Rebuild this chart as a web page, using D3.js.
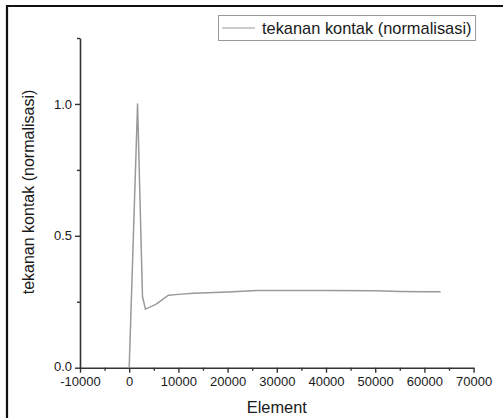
<!DOCTYPE html>
<html>
<head>
<meta charset="utf-8">
<script src="https://cdn.jsdelivr.net/npm/d3@7"></script>
<style>
  html, body { margin: 0; padding: 0; background: #fff; }
  svg { display: block; }
  text { font-family: "Liberation Sans", Arial, sans-serif; fill: #1a1a1a; }
</style>
</head>
<body>
<svg id="chart" width="504" height="418"></svg>
<script>
// Normalised contact pressure along the element index
const elements = [0, 1700, 2700, 3300, 5400, 8000, 10000, 13000, 20000, 26000, 30000, 40000, 50000, 55000, 60000, 63300];
const pressure = [0, 1.0, 0.27, 0.222, 0.24, 0.275, 0.278, 0.282, 0.287, 0.293, 0.293, 0.293, 0.292, 0.289, 0.288, 0.288];

const xMajorTicks = [-10000, 0, 10000, 20000, 30000, 40000, 50000, 60000, 70000];
const xMinorTicks = [-5000, 5000, 15000, 25000, 35000, 45000, 55000, 65000];
const yMajorTicks = [0.0, 0.5, 1.0];
const yMinorTicks = [0.25, 0.75, 1.25];

const seriesName = "tekanan kontak (normalisasi)";
const xTitle = "Element";
const yTitle = "tekanan kontak (normalisasi)";

const svg = d3.select("#chart");

// outer frame (top and left edges visible)
svg.append("path")
  .attr("d", "M7,430 L7,6 L503,6")
  .attr("fill", "none")
  .attr("stroke", "#111")
  .attr("stroke-width", 2.2);

const x = d3.scaleLinear().domain([-10000, 70000]).range([80, 473.6]);
const y = d3.scaleLinear().domain([0, 1.25]).range([367.7, 38]);

const axisColor = "#333";

// plain hyphen for negative tick labels
const xFmt = d => String(d);

// x axis
const xAxisG = svg.append("g").attr("transform", `translate(0,${y(0)})`);
xAxisG.call(d3.axisBottom(x).tickValues(xMajorTicks).tickSize(5).tickSizeOuter(0).tickFormat(xFmt));
xAxisG.append("g").call(d3.axisBottom(x).tickValues(xMinorTicks).tickSize(3).tickSizeOuter(0).tickFormat(""))
  .select(".domain").remove();

// y axis
const yAxisG = svg.append("g").attr("transform", `translate(${x(-10000)},0)`);
yAxisG.call(d3.axisLeft(y).tickValues(yMajorTicks).tickSize(5).tickSizeOuter(0).tickFormat(d => d.toFixed(1)));
yAxisG.append("g").call(d3.axisLeft(y).tickValues(yMinorTicks).tickSize(3).tickSizeOuter(0).tickFormat(""))
  .select(".domain").remove();

svg.selectAll(".domain").attr("stroke", axisColor).attr("stroke-width", 1.6);
svg.selectAll(".tick line").attr("stroke", axisColor).attr("stroke-width", 1.4);
svg.selectAll(".tick text").style("font-family", "'Liberation Sans', Arial, sans-serif").style("font-size", "13px").attr("fill", "#1a1a1a");
xAxisG.selectAll(".tick text").attr("dy", "0.95em").attr("y", 6);
yAxisG.selectAll(".tick text").attr("x", -8);
yAxisG.selectAll(".tick text").filter(d => d === 0).attr("dy", "0.2em");

// series line
const line = d3.line().x((d, i) => x(elements[i])).y(d => y(d));
svg.append("path")
  .datum(pressure)
  .attr("d", line)
  .attr("fill", "none")
  .attr("stroke", "#9a9a9a")
  .attr("stroke-width", 1.5)
  .attr("stroke-linejoin", "round");

// axis titles
svg.append("text")
  .attr("x", (x(-10000) + x(70000)) / 2)
  .attr("y", 413)
  .attr("text-anchor", "middle")
  .style("font-size", "16.4px")
  .text(xTitle);

svg.append("text")
  .attr("transform", `translate(34,192) rotate(-90)`)
  .attr("text-anchor", "middle")
  .style("font-size", "16px")
  .text(yTitle);

// legend
const legend = svg.append("g");
legend.append("rect")
  .attr("x", 218.5).attr("y", 15.5)
  .attr("width", 257).attr("height", 25)
  .attr("fill", "#fff")
  .attr("stroke", "#999")
  .attr("stroke-width", 1);
legend.append("line")
  .attr("x1", 222).attr("x2", 255)
  .attr("y1", 28).attr("y2", 28)
  .attr("stroke", "#9a9a9a")
  .attr("stroke-width", 1.2);
legend.append("text")
  .attr("x", 262).attr("y", 34)
  .style("font-size", "16.4px")
  .text(seriesName);
</script>
</body>
</html>
